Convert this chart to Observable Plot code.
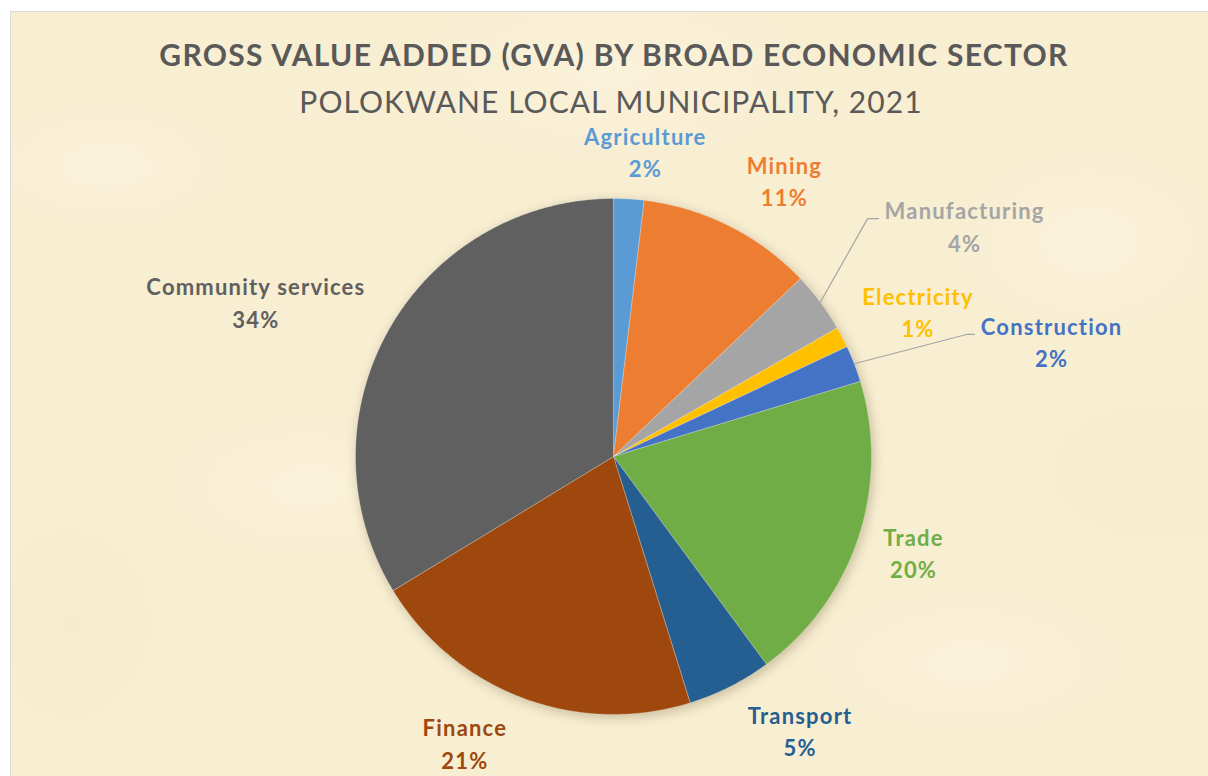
<!DOCTYPE html>
<html>
<head>
<meta charset="utf-8">
<script src="https://cdn.jsdelivr.net/npm/d3@7"></script>
<script src="https://cdn.jsdelivr.net/npm/@observablehq/plot@0.6"></script>
<style>
  html, body { margin: 0; padding: 0; background: #ffffff; }
  body { width: 1208px; height: 776px; overflow: hidden; position: relative; font-family: Lato, "Open Sans", sans-serif; }
  #frame {
    position: absolute; left: 10px; top: 11px; width: 1198px; height: 765px;
    border-left: 1px solid #d9d9d9; border-top: 1px solid #d9d9d9;
    background-color: #f8eed2;
    background-image:
      radial-gradient(ellipse 120px 60px at 8% 20%, rgba(253,248,230,0.45), rgba(253,248,230,0) 100%),
      radial-gradient(ellipse 140px 70px at 25% 62%, rgba(253,248,230,0.4), rgba(253,248,230,0) 100%),
      radial-gradient(ellipse 130px 90px at 90% 30%, rgba(253,248,230,0.45), rgba(253,248,230,0) 100%),
      radial-gradient(ellipse 150px 70px at 80% 85%, rgba(253,248,230,0.4), rgba(253,248,230,0) 100%),
      radial-gradient(ellipse 110px 130px at 5% 80%, rgba(242,230,196,0.35), rgba(242,230,196,0) 100%),
      radial-gradient(ellipse 160px 100px at 96% 60%, rgba(242,230,196,0.3), rgba(242,230,196,0) 100%),
      radial-gradient(ellipse 200px 90px at 50% 8%, rgba(253,248,230,0.35), rgba(253,248,230,0) 100%);
    overflow: hidden;
  }
  #title {
    position: absolute; left: 0; width: 1198px; top: 24px; text-align: center;
    font-family: Lato, "Open Sans", sans-serif; font-weight: 700; font-size: 30px; color: #595959;
    line-height: 36px; padding-left: 8px; box-sizing: border-box; letter-spacing: 1.3px;
  }
  #subtitle {
    position: absolute; left: 0; width: 1198px; top: 71px; text-align: center;
    font-family: Lato, "Open Sans", sans-serif; font-weight: 400; font-size: 30px; color: #595959;
    line-height: 36px; padding-left: 2px; box-sizing: border-box; letter-spacing: 1.05px;
  }
  #chart { position: absolute; left: 0; top: 110px; }
  #chart svg { background: transparent; overflow: visible; }
  #chart text { letter-spacing: 1.2px; }
  .pie-shadow { filter: blur(6px); }
</style>
</head>
<body>
<div id="frame">
  <div id="title">GROSS VALUE ADDED (GVA) BY BROAD ECONOMIC SECTOR</div>
  <div id="subtitle">POLOKWANE LOCAL MUNICIPALITY, 2021</div>
  <div id="chart"></div>
</div>
<script>
// ---- data ----
const sectors = ["Agriculture", "Mining", "Manufacturing", "Electricity", "Construction", "Trade", "Transport", "Finance", "Community services"];
const shares = [1.9, 11.0, 3.8, 1.3, 2.3, 19.6, 5.3, 21.1, 33.7];
const sectorColors = ["#5b9bd5", "#ed7d31", "#a5a5a5", "#ffc000", "#4472c4", "#70ad47", "#255e91", "#9e480e", "#606060"];

// ---- layout (label placement: polar angle in degrees clockwise from top, radius in pie radii) ----
const labelAngles = [5.8, 31.8, 56.9, 64.8, 75.5, 108.2, 146.1, 207.4, 293.0];
const labelRadii = [1.18, 1.25, 1.62, 1.30, 1.75, 1.22, 1.29, 1.26, 1.51];
const leaderSectors = ["Manufacturing", "Construction"];
const leaderBend = [[0.985, 0.922], [1.368, 0.473]]; // elbow point, in pie radii (x right, y up)
const leaderEnd = [[1.027, 0.922], [1.399, 0.473]];

const W = 1198, H = 655, R = 258, CX = 602, CY = 334;

const data = sectors.map((s, i) => ({sector: s, share: shares[i]}));
const arcs = d3.pie().sort(null).value(d => d.share).startAngle(0).endAngle(2 * Math.PI)(data);

const polar = (a, r) => ({x: r * Math.sin(a), y: r * Math.cos(a)});

const sliceRows = [];
for (const arc of arcs) {
  const s = arc.data.sector;
  sliceRows.push({sector: s, x: 0, y: 0});
  const n = Math.max(2, Math.ceil((arc.endAngle - arc.startAngle) / (Math.PI / 360)));
  for (let k = 0; k <= n; k++) {
    const a = arc.startAngle + (arc.endAngle - arc.startAngle) * k / n;
    sliceRows.push({sector: s, ...polar(a, 1)});
  }
  sliceRows.push({sector: s, x: 0, y: 0});
}

const labels = arcs.map((arc, i) => {
  const p = polar(labelAngles[i] * Math.PI / 180, labelRadii[i]);
  return {sector: arc.data.sector, x: p.x, y: p.y, text: `${arc.data.sector}\n${Math.round(arc.data.share)}%`};
});

const leaderRows = [];
leaderSectors.forEach((s, j) => {
  const arc = arcs.find(a => a.data.sector === s);
  const mid = (arc.startAngle + arc.endAngle) / 2;
  leaderRows.push({sector: s, ...polar(mid, 1)});
  leaderRows.push({sector: s, x: leaderBend[j][0], y: leaderBend[j][1]});
  leaderRows.push({sector: s, x: leaderEnd[j][0], y: leaderEnd[j][1]});
});

const chart = Plot.plot({
  width: W,
  height: H,
  margin: 0,
  x: {domain: [-CX / R, (W - CX) / R], axis: null},
  y: {domain: [-(H - CY) / R, CY / R], axis: null},
  color: {domain: sectors, range: sectorColors},
  style: {background: "transparent", overflow: "visible"},
  marks: [
    Plot.dot([{x: 0, y: 0}], {x: "x", y: "y", r: R, fill: "#6b5a30", fillOpacity: 0.35, dx: 2, dy: 3, className: "pie-shadow"}),
    Plot.line(sliceRows, {x: "x", y: "y", z: "sector", fill: "sector", stroke: "#ffffff", strokeOpacity: 0.35, strokeWidth: 0.75, curve: "linear"}),
    Plot.line(leaderRows, {x: "x", y: "y", z: "sector", stroke: "#a6a6a6", strokeWidth: 1.2}),
    Plot.text(labels, {x: "x", y: "y", dx: 1, dy: -3, text: "text", fill: "sector", fontSize: 22, fontWeight: 700, lineHeight: 1.48, fontFamily: "Lato, 'Open Sans', sans-serif"})
  ]
});
document.getElementById("chart").appendChild(chart);
</script>
</body>
</html>
